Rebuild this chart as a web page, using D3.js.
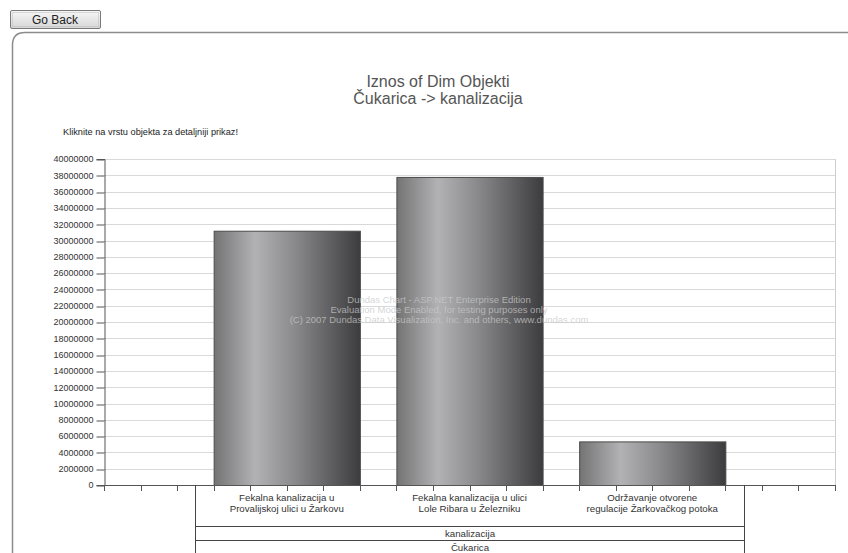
<!DOCTYPE html>
<html>
<head>
<meta charset="utf-8">
<script src="https://cdn.jsdelivr.net/npm/d3@7"></script>
<style>
  html, body { margin: 0; padding: 0; background: #fff; }
  svg { display: block; }
</style>
</head>
<body>
<svg id="chart" width="848" height="553"></svg>
<script>
// ---- data ----
const titleLines = ["Iznos of Dim Objekti", "Čukarica -> kanalizacija"];
const subtitle = "Kliknite na vrstu objekta za detaljniji prikaz!";
const categories = [
  ["Fekalna kanalizacija u", "Provalijskoj ulici u Žarkovu"],
  ["Fekalna kanalizacija u ulici", "Lole Ribara u Železniku"],
  ["Održavanje otvorene", "regulacije Žarkovačkog potoka"]
];
const values = [31200000, 37800000, 5350000];
const yTicks = d3.range(0, 40000001, 2000000);
const groupLabels = ["kanalizacija", "Čukarica"];
const watermark = [
  "Dundas Chart - ASP.NET Enterprise Edition",
  "Evaluation Mode Enabled, for testing purposes only",
  "(C) 2007 Dundas Data Visualization, Inc. and others, www.dundas.com"
];

// ---- layout ----
const svg = d3.select("#chart");
const font = "'Liberation Sans', Arial, sans-serif";
const plot = { left: 104, right: 835, top: 159, bottom: 485 };

const defs = svg.append("defs");
const bg = defs.append("linearGradient").attr("id", "barGrad").attr("x1", 0).attr("x2", 1).attr("y1", 0).attr("y2", 0);
[[0, "#747474"], [0.28, "#b2b2b5"], [0.55, "#8a8a8c"], [1, "#3c3c3e"]].forEach(([o, c]) =>
  bg.append("stop").attr("offset", o).attr("stop-color", c));
const btnGrad = defs.append("linearGradient").attr("id", "btnGrad").attr("x1", 0).attr("x2", 0).attr("y1", 0).attr("y2", 1);
[[0, "#f7f7f7"], [1, "#d6d6d6"]].forEach(([o, c]) =>
  btnGrad.append("stop").attr("offset", o).attr("stop-color", c));

// Go Back button
svg.append("rect").attr("x", 10.5).attr("y", 10.5).attr("width", 90).attr("height", 18).attr("rx", 1.5)
  .attr("fill", "url(#btnGrad)").attr("stroke", "#7a7a7a");
svg.append("rect").attr("x", 12.5).attr("y", 12.5).attr("width", 86).attr("height", 14)
  .attr("fill", "none").attr("stroke", "#bbb").attr("stroke-dasharray", "1,1");
svg.append("text").attr("x", 55).attr("y", 24).attr("text-anchor", "middle")
  .attr("font-family", font).attr("font-size", 12).attr("fill", "#222").text("Go Back");

// outer frame
svg.append("path").attr("d", "M12.5,553 L12.5,45 Q12.5,32.5 25,32.5 L848,32.5")
  .attr("fill", "none").attr("stroke", "#8c8c8c").attr("stroke-width", 1.5);

// titles
svg.selectAll("text.title").data(titleLines).join("text").attr("class", "title")
  .attr("x", 438).attr("y", (d, i) => 87 + i * 17).attr("text-anchor", "middle")
  .attr("font-family", font).attr("font-size", 16).attr("fill", "#555").text(d => d);

svg.append("text").attr("x", 63).attr("y", 135).attr("font-family", font).attr("font-size", 9)
  .attr("textLength", 175).attr("lengthAdjust", "spacingAndGlyphs").attr("fill", "#222").text(subtitle);

// scales
const y = d3.scaleLinear().domain([0, 40000000]).range([plot.bottom, plot.top]);
const x = d3.scaleBand().domain(d3.range(categories.length)).range([plot.left, plot.right])
  .paddingInner(0.2).paddingOuter(0.6);
const unit = x.step() / 5;
const tickUnits = d3.range(0, Math.round((plot.right - plot.left) / unit) + 1);

// gridlines
svg.append("g").selectAll("line").data(yTicks).join("line")
  .attr("x1", plot.left).attr("x2", plot.right)
  .attr("y1", d => Math.round(y(d)) + 0.5).attr("y2", d => Math.round(y(d)) + 0.5)
  .attr("stroke", "#d9d9d9");
svg.append("line").attr("x1", plot.right + 0.5).attr("x2", plot.right + 0.5)
  .attr("y1", plot.top).attr("y2", plot.bottom).attr("stroke", "#cfcfcf");

// y axis
const yAxis = d3.axisLeft(y).tickValues(yTicks).tickSize(8).tickFormat(d3.format("d"));
const gy = svg.append("g").attr("transform", `translate(${plot.left + 0.5},0)`).call(yAxis);
gy.select(".domain").attr("stroke", "#555");
gy.selectAll(".tick line").attr("stroke", "#555").attr("transform", d => `translate(0,${Math.round(y(d)) + 0.5 - y(d)})`);
gy.selectAll(".tick text").attr("font-family", font).attr("font-size", 9).attr("fill", "#333").attr("x", -11);

// bars
svg.append("g").selectAll("rect").data(values).join("rect")
  .attr("x", (d, i) => x(i) + 0.5).attr("width", x.bandwidth())
  .attr("y", d => y(d) + 0.5).attr("height", d => y(0) - y(d))
  .attr("fill", "url(#barGrad)").attr("stroke", "#4a4a4a").attr("stroke-width", 1);

// watermark
svg.selectAll("text.wm").data(watermark).join("text").attr("class", "wm")
  .attr("x", 439).attr("y", (d, i) => 303 + i * 10).attr("text-anchor", "middle")
  .attr("font-family", font).attr("font-size", 9.5).attr("fill", "#c8c8c8").attr("fill-opacity", 0.75).text(d => d);

// x axis
svg.append("line").attr("x1", plot.left).attr("x2", plot.right)
  .attr("y1", plot.bottom + 0.5).attr("y2", plot.bottom + 0.5).attr("stroke", "#555");
svg.append("g").selectAll("line").data(tickUnits).join("line")
  .attr("x1", d => Math.round(plot.left + d * unit) + 0.5).attr("x2", d => Math.round(plot.left + d * unit) + 0.5)
  .attr("y1", plot.bottom).attr("y2", plot.bottom + 6).attr("stroke", "#555");

// category labels
const catG = svg.append("g");
categories.forEach((lines, i) => {
  catG.selectAll(null).data(lines).join("text")
    .attr("x", x(i) + x.bandwidth() / 2).attr("y", (d, j) => 501 + j * 10.5)
    .attr("text-anchor", "middle").attr("font-family", font).attr("font-size", 9.7)
    .attr("fill", "#333").text(d => d);
});

// group label boxes
const gx0 = Math.round(x(0) - unit / 2) + 0.5;
const gx1 = Math.round(x(categories.length - 1) + x.bandwidth() + unit / 2) + 0.5;
svg.append("line").attr("x1", gx0).attr("x2", gx0).attr("y1", plot.bottom).attr("y2", 553).attr("stroke", "#444");
svg.append("line").attr("x1", gx1).attr("x2", gx1).attr("y1", plot.bottom).attr("y2", 553).attr("stroke", "#444");
[526.5, 540.5].forEach(yy =>
  svg.append("line").attr("x1", gx0).attr("x2", gx1).attr("y1", yy).attr("y2", yy).attr("stroke", "#444"));
svg.selectAll("text.grp").data(groupLabels).join("text").attr("class", "grp")
  .attr("x", (gx0 + gx1) / 2).attr("y", (d, i) => 537 + i * 14).attr("text-anchor", "middle")
  .attr("font-family", font).attr("font-size", 9.7).attr("fill", "#333").text(d => d);
</script>
</body>
</html>
